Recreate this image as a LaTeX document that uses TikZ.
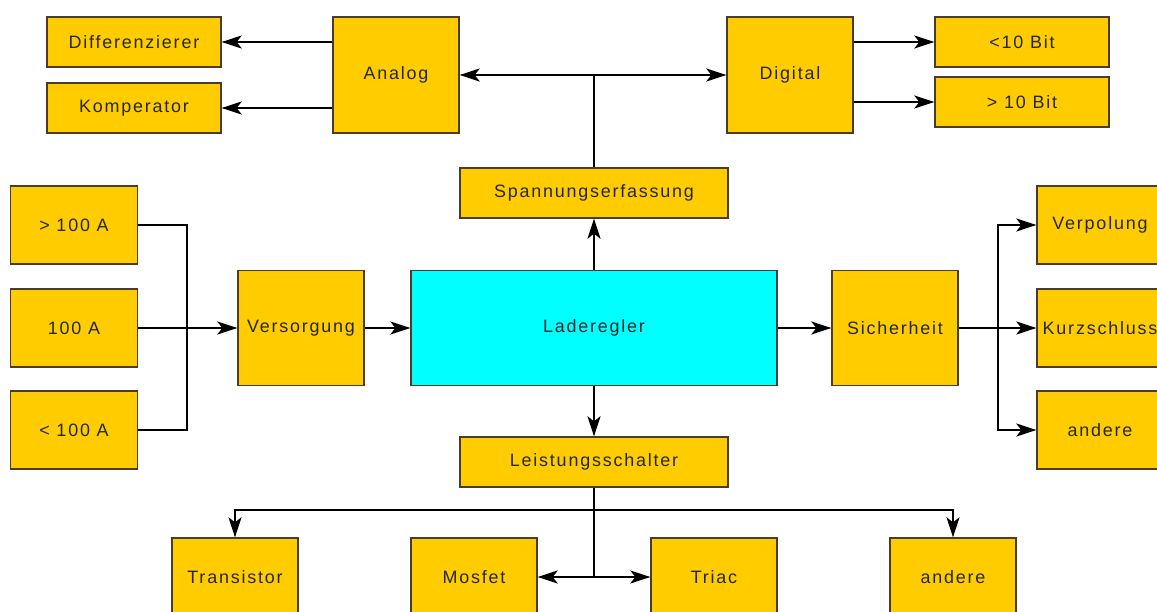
\documentclass[tikz,border=0pt]{standalone}
\usepackage{fontspec}
\setmainfont{Liberation Sans}[LetterSpace=10]
\usetikzlibrary{arrows.meta,positioning}

\definecolor{boxfill}{HTML}{FFCC00}
\definecolor{boxline}{HTML}{4A3C28}
\definecolor{mainfill}{HTML}{00FFFF}

\begin{document}
\begin{tikzpicture}[x=0.02cm,y=-0.02cm]
	\tikzset{
		block/.style={draw=boxline,fill=boxfill,line width=0.8pt,inner sep=1pt,
			font=\fontsize{10.2}{12}\selectfont,text=black!85},
		wide/.style={block,minimum width=3.48cm,minimum height=1cm},
		tall/.style={block,minimum width=2.52cm,minimum height=2.32cm},
		mid/.style={block,minimum width=2.54cm,minimum height=1.56cm},
		bar/.style={block,minimum width=5.36cm,minimum height=1cm},
		arr/.style={-{Stealth[length=11.5pt,width=7.5pt,inset=3pt]},line width=0.6pt},
		wire/.style={line width=0.6pt}
	}
	\clip (0,0) rectangle (1157,612);
	% top row
	\node[wide] (diff) at (134,42) {Differenzierer};
	\node[wide] (komp) at (134,108) {Komperator};
	\node[tall] (analog) at (396,75) {Analog};
	\node[tall] (digital) at (790,75) {Digital};
	\node[wide] (bitlo) at (1022,42) {<10 Bit};
	\node[wide] (bithi) at (1022,102) {> 10 Bit};
	\node[bar] (spann) at (594,193) {Spannungserfassung};
	% middle row
	\node[mid] (ahi) at (74,225) {> 100 A};
	\node[mid] (amid) at (74,328) {100 A};
	\node[mid] (alo) at (74,430) {< 100 A};
	\node[tall,minimum height=2.3cm] (vers) at (301,328) {Versorgung};
	\node[block,fill=mainfill,minimum width=7.32cm,minimum height=2.3cm] (lade) at (594,328) {Laderegler};
	\node[tall,minimum height=2.3cm] (sich) at (895,328) {Sicherheit};
	\node[mid,minimum width=2.52cm] (verp) at (1100,225) {Verpolung};
	\node[mid,minimum width=2.52cm] (kurz) at (1100,328) {Kurzschluss};
	\node[mid,minimum width=2.52cm] (andr) at (1100,430) {andere};
	% bottom row
	\node[bar] (leist) at (594,462) {Leistungsschalter};
	\node[mid,minimum width=2.52cm] (trans) at (235,577) {Transistor};
	\node[mid,minimum width=2.52cm] (mosf) at (474,577) {Mosfet};
	\node[mid,minimum width=2.52cm] (triac) at (714,577) {Triac};
	\node[mid,minimum width=2.52cm] (andb) at (953,577) {andere};

	% helper points
	\coordinate (jtop) at (spann.north |- analog.east);
	\coordinate (busl) at (187,328);
	\coordinate (busr) at (998,328);
	\coordinate (jbot) at (594,510);
	\coordinate (jsw) at (jbot |- mosf.east);

	\draw[arr] (analog.west |- diff.east) -- (diff.east);
	\draw[arr] (analog.west |- komp.east) -- (komp.east);
	\draw[wire] (spann.north) -- (jtop);
	\draw[arr] (jtop) -- (analog.east);
	\draw[arr] (jtop) -- (digital.west);
	\draw[arr] (digital.east |- bitlo.west) -- (bitlo.west);
	\draw[arr] (digital.east |- bithi.west) -- (bithi.west);
	\draw[arr] (lade.north) -- (spann.south);

	\draw[wire] (ahi.east) -| (busl) |- (alo.east);
	\draw[arr] (amid.east) -- (vers.west);
	\draw[arr] (vers.east) -- (lade.west);
	\draw[arr] (lade.east) -- (sich.west);
	\draw[wire] (sich.east) -- (busr);
	\draw[arr] (busr) |- (verp.west);
	\draw[arr] (busr) -- (kurz.west);
	\draw[arr] (busr) |- (andr.west);

	\draw[arr] (lade.south) -- (leist.north);
	\draw[wire] (leist.south) -- (jbot) -- (jsw);
	\draw[arr] (jbot) -| (trans.north);
	\draw[arr] (jbot) -| (andb.north);
	\draw[arr] (jsw) -- (mosf.east);
	\draw[arr] (jsw) -- (triac.west);
\end{tikzpicture}
\end{document}
